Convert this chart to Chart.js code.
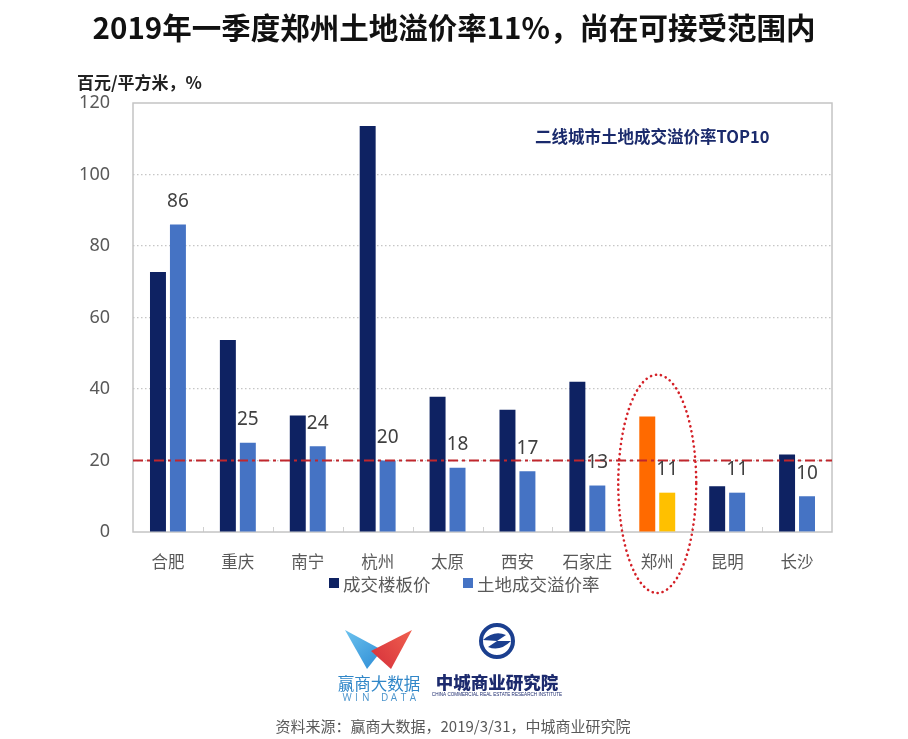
<!DOCTYPE html>
<html>
<head>
<meta charset="utf-8">
<script src="https://cdn.jsdelivr.net/npm/chart.js@4"></script>
<style>
  html, body { margin: 0; padding: 0; background: #fff; }
  canvas { display: block; }
</style>
</head>
<body>
<canvas id="c" width="908" height="739"></canvas>
<script>
// city names along the x axis
const cities = ['合肥', '重庆', '南宁', '杭州', '太原', '西安', '石家庄', '郑州', '昆明', '长沙'];
// 成交楼板价 (百元/平方米)
const floorPrice = [72.7, 53.7, 32.6, 113.6, 37.8, 34.2, 42.0, 32.3, 12.8, 21.7];
// 土地成交溢价率 (%)
const premiumRate = [86, 25, 24, 20, 18, 17, 13, 11, 11, 10];
const yTicks = [0, 20, 40, 60, 80, 100, 120];
const seriesNames = ['成交楼板价', '土地成交溢价率'];
const refLine = 20;
const highlight = '郑州';

const CJK = '"Noto Sans CJK SC", "Noto Sans", sans-serif';
const NAVY = '#0e2262';
const BLUE = '#4573c4';

const hi = cities.indexOf(highlight);
const darkColors = cities.map((c, i) => i === hi ? '#ff6a00' : NAVY);
const lightColors = cities.map((c, i) => i === hi ? '#ffc000' : BLUE);

const extras = {
    id: 'extras',
    beforeDatasetsDraw(chart) {
        const ctx = chart.ctx;
        const a = chart.chartArea;
        const x = chart.scales.x;
        ctx.save();
        // small tick marks between categories
        ctx.strokeStyle = '#d0d0d0';
        ctx.lineWidth = 1;
        for (let i = 1; i < cities.length; i++) {
            const bx = Math.round((x.getPixelForValue(i - 1) + x.getPixelForValue(i)) / 2) + 0.5;
            ctx.beginPath();
            ctx.moveTo(bx, a.bottom - 5);
            ctx.lineTo(bx, a.bottom);
            ctx.stroke();
        }
        // frame
        ctx.strokeStyle = '#c4c4c4';
        ctx.lineWidth = 1.5;
        ctx.strokeRect(a.left, a.top, a.right - a.left, a.bottom - a.top);
        ctx.restore();
    },
    afterDatasetsDraw(chart) {
        const ctx = chart.ctx;
        const a = chart.chartArea;
        const x = chart.scales.x;
        const y = chart.scales.y;
        ctx.save();
        // reference line at 20
        const ry = y.getPixelForValue(refLine);
        ctx.strokeStyle = '#c0272d';
        ctx.lineWidth = 2;
        ctx.setLineDash([10, 4, 3, 4]);
        ctx.beginPath();
        ctx.moveTo(a.left, ry);
        ctx.lineTo(a.right, ry);
        ctx.stroke();

        // value labels over the rate bars
        ctx.setLineDash([]);
        const meta = chart.getDatasetMeta(1);
        ctx.fillStyle = '#404040';
        ctx.font = '19px "Noto Sans", sans-serif';
        ctx.textAlign = 'center';
        ctx.textBaseline = 'middle';
        meta.data.forEach((bar, i) => {
            ctx.fillText(String(premiumRate[i]), bar.x, bar.y - 23);
        });

        // dotted ellipse round the highlighted city
        const cx = x.getPixelForValue(hi);
        const top = y.getPixelForValue(44);
        const bottom = a.bottom + 61;
        ctx.strokeStyle = '#d42027';
        ctx.lineWidth = 2.6;
        ctx.lineCap = 'round';
        ctx.setLineDash([0.1, 5]);
        ctx.beginPath();
        ctx.ellipse(cx, (top + bottom) / 2, 39, (bottom - top) / 2, 0, 0, Math.PI * 2);
        ctx.stroke();
        ctx.restore();
    },
    afterDraw(chart) {
        const ctx = chart.ctx;
        ctx.save();
        ctx.textBaseline = 'middle';

        // title
        ctx.fillStyle = '#111';
        ctx.textAlign = 'center';
        ctx.font = 'bold 29.5px ' + CJK;
        ctx.fillText('2019年一季度郑州土地溢价率11%，尚在可接受范围内', 454, 28);

        // unit
        ctx.textAlign = 'left';
        ctx.font = 'bold 17px ' + CJK;
        ctx.fillStyle = '#222';
        ctx.fillText('百元/平方米，%', 77, 83);

        // inset title
        ctx.fillStyle = '#1a2a6c';
        ctx.font = 'bold 16.5px ' + CJK;
        ctx.fillText('二线城市土地成交溢价率TOP10', 535, 137);

        // legend
        const legendX = [329, 463];
        const legendCol = [NAVY, BLUE];
        ctx.font = '17.5px ' + CJK;
        chart.data.datasets.forEach((ds, i) => {
            ctx.fillStyle = legendCol[i];
            ctx.fillRect(legendX[i], 578, 10, 10);
            ctx.fillStyle = '#595959';
            ctx.fillText(ds.label, legendX[i] + 14, 584);
        });

        // WIN DATA logo
        let g = ctx.createLinearGradient(345, 630, 380, 668);
        g.addColorStop(0, '#6cc2ee');
        g.addColorStop(1, '#2f8ed6');
        ctx.fillStyle = g;
        ctx.beginPath();
        ctx.moveTo(345, 630);
        ctx.lineTo(382, 650);
        ctx.lineTo(367, 669);
        ctx.closePath();
        ctx.fill();
        g = ctx.createLinearGradient(412, 630, 372, 660);
        g.addColorStop(0, '#f0604f');
        g.addColorStop(1, '#d8343c');
        ctx.fillStyle = g;
        ctx.beginPath();
        ctx.moveTo(412, 630);
        ctx.lineTo(371, 651);
        ctx.lineTo(391, 669);
        ctx.closePath();
        ctx.fill();
        ctx.textAlign = 'center';
        ctx.fillStyle = '#2f86c8';
        ctx.font = '16.5px ' + CJK;
        ctx.fillText('赢商大数据', 379, 684);
        ctx.font = '10px "Open Sans", sans-serif';
        ctx.fillStyle = '#4b94cc';
        'WIN DATA'.split('').forEach((ch, i) => {
            ctx.fillText(ch, 347 + i * 9.4, 698);
        });

        // 中城商业研究院 logo
        ctx.strokeStyle = '#1b3f8f';
        ctx.lineWidth = 4;
        ctx.beginPath();
        ctx.arc(497, 641, 16, 0, Math.PI * 2);
        ctx.stroke();
        ctx.fillStyle = '#1b3f8f';
        ctx.beginPath();
        ctx.moveTo(483, 640);
        ctx.quadraticCurveTo(494, 630, 506, 635);
        ctx.lineTo(497, 641);
        ctx.lineTo(511, 641);
        ctx.quadraticCurveTo(500, 652, 488, 647);
        ctx.lineTo(497, 641);
        ctx.closePath();
        ctx.fill();
        ctx.fillStyle = '#1d2b6e';
        ctx.font = '900 17.5px ' + CJK;
        ctx.fillText('中城商业研究院', 497, 682);
        ctx.font = '4.6px "Liberation Sans", sans-serif';
        ctx.fillText('CHINA COMMERCIAL REAL ESTATE RESEARCH INSTITUTE', 497, 695);

        // source
        ctx.fillStyle = '#595959';
        ctx.font = '15px ' + CJK;
        ctx.fillText('资料来源：赢商大数据，2019/3/31，中城商业研究院', 453, 726);
        ctx.restore();
    }
};

new Chart(document.getElementById('c'), {
    type: 'bar',
    data: {
        labels: cities,
        datasets: [
            { label: seriesNames[0], data: floorPrice, backgroundColor: darkColors },
            { label: seriesNames[1], data: premiumRate, backgroundColor: lightColors }
        ]
    },
    options: {
        responsive: false,
        animation: false,
        devicePixelRatio: 1,
        layout: { padding: { left: 73, top: 103, right: 76, bottom: 157 } },
        datasets: { bar: { categoryPercentage: 0.571, barPercentage: 0.8 } },
        plugins: { legend: { display: false }, tooltip: { enabled: false } },
        scales: {
            x: {
                grid: { display: false },
                border: { display: false },
                ticks: { color: '#595959', padding: 12, font: { family: CJK, size: 16.5 } },
                afterFit: (s) => { s.height = 50; }
            },
            y: {
                min: 0,
                max: 120,
                afterBuildTicks: (s) => { s.ticks = yTicks.map(v => ({ value: v })); },
                grid: {
                    drawTicks: false,
                    color: (c) => (c.tick && c.tick.value > 0 && c.tick.value < 120) ? '#c6c6c6' : 'rgba(0,0,0,0)',
                    lineWidth: 1.2
                },
                border: { display: false, dash: [1.5, 2.5] },
                ticks: { color: '#595959', padding: 23, font: { family: '"Noto Sans", sans-serif', size: 18 } },
                afterFit: (s) => { s.width = 60; }
            }
        }
    },
    plugins: [extras]
});
</script>
</body>
</html>
